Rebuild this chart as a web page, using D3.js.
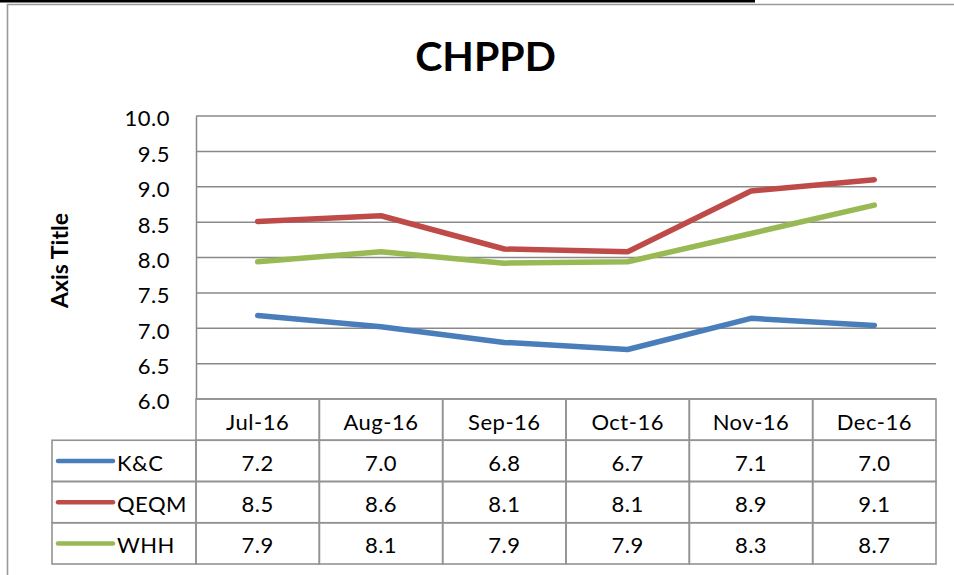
<!DOCTYPE html>
<html>
<head>
<meta charset="utf-8">
<script src="https://cdn.jsdelivr.net/npm/d3@7"></script>
<style>
  body { margin: 0; background: #fff; }
  text { font-family: Lato, "Open Sans", sans-serif; fill: #000; }
</style>
</head>
<body>
<div id="chart"></div>
<script>
// CHPPD line chart with data table underneath

var categories = ["Jul-16", "Aug-16", "Sep-16", "Oct-16", "Nov-16", "Dec-16"];
var seriesNames = ["K&C", "QEQM", "WHH"];
var kcValues = [7.18, 7.02, 6.80, 6.70, 7.14, 7.04];
var qeqmValues = [8.51, 8.59, 8.12, 8.08, 8.94, 9.10];
var whhValues = [7.94, 8.08, 7.92, 7.94, 8.34, 8.74];
var yTicks = [6.0, 6.5, 7.0, 7.5, 8.0, 8.5, 9.0, 9.5, 10.0];
var colors = ["#4A7EBB", "#BE4B48", "#98B954"];

var series = seriesNames.map(function(name, i) {
    return { name: name, values: [kcValues, qeqmValues, whhValues][i], color: colors[i] };
});

var svgWidth = 954;
var svgHeight = 575;
var fontSize = 22;

var svg = d3.select("#chart")
    .append("svg")
    .attr("width", svgWidth)
    .attr("height", svgHeight);

svg.append("rect")
    .attr("width", svgWidth)
    .attr("height", svgHeight)
    .attr("fill", "#fff");

// bit of the page above the chart
svg.append("rect")
    .attr("x", 0).attr("y", 0)
    .attr("width", 755).attr("height", 2.5)
    .attr("fill", "#000");

// chart frame (only top and left show in the crop)
svg.append("path")
    .attr("d", "M7.5,575 V4.5 H954")
    .attr("fill", "none")
    .attr("stroke", "#9a9a9a")
    .attr("stroke-width", 1.6);

var plotLeft = 196, plotRight = 936, plotTop = 116, plotBottom = 399;

var x = d3.scaleBand()
    .domain(categories)
    .range([plotLeft, plotRight]);

var y = d3.scaleLinear()
    .domain([6, 10])
    .range([plotBottom, plotTop]);

// title
svg.append("text")
    .attr("x", 485.5)
    .attr("y", 71)
    .attr("text-anchor", "middle")
    .attr("font-size", 41)
    .attr("font-weight", "bold")
    .text("CHPPD");

// axis title
svg.append("text")
    .attr("transform", "translate(68," + 260.5 + ") rotate(-90)")
    .attr("text-anchor", "middle")
    .attr("font-size", 23)
    .attr("font-weight", "bold")
    .text("Axis Title");

// gridlines
svg.append("g")
    .selectAll("line")
    .data(yTicks)
    .join("line")
    .attr("x1", plotLeft)
    .attr("x2", plotRight)
    .attr("y1", function(d) { return y(d); })
    .attr("y2", function(d) { return y(d); })
    .attr("stroke", "#898989")
    .attr("stroke-width", 1.5);

// y axis
var yAxis = d3.axisLeft(y)
    .tickValues(yTicks)
    .tickFormat(d3.format(".1f"))
    .tickSize(0)
    .tickPadding(26);

var yAxisG = svg.append("g")
    .attr("transform", "translate(" + plotLeft + ",0)")
    .call(yAxis);
yAxisG.select(".domain").attr("stroke", "#898989").attr("stroke-width", 1.5);
yAxisG.selectAll("text")
    .attr("font-size", fontSize)
    .attr("font-family", "Lato, sans-serif")
    .attr("letter-spacing", "0.5px")
    .attr("fill", "#000")
    .attr("dy", "0.45em");

// lines
var line = d3.line()
    .x(function(d, i) { return x(categories[i]) + x.bandwidth() / 2; })
    .y(function(d) { return y(d); });

svg.append("g")
    .selectAll("path")
    .data(series)
    .join("path")
    .attr("d", function(d) { return line(d.values); })
    .attr("fill", "none")
    .attr("stroke", function(d) { return d.color; })
    .attr("stroke-width", 5.5)
    .attr("stroke-linecap", "round")
    .attr("stroke-linejoin", "round");

// data table
var tableLeft = 52;
var rows = d3.scaleBand()
    .domain(["header"].concat(seriesNames))
    .range([plotBottom, 564]);
var rh = rows.bandwidth();
var fmt = d3.format(".1f");
var border = "#939393";

var table = svg.append("g");

// header cells
table.selectAll(".hcell")
    .data(categories)
    .join("rect")
    .attr("class", "hcell")
    .attr("x", function(d) { return x(d); })
    .attr("y", rows("header"))
    .attr("width", x.bandwidth())
    .attr("height", rh)
    .attr("fill", "none")
    .attr("stroke", border)
    .attr("stroke-width", 1.6);

table.selectAll(".htext")
    .data(categories)
    .join("text")
    .attr("class", "htext")
    .attr("x", function(d) { return x(d) + x.bandwidth() / 2; })
    .attr("y", rows("header") + rh / 2 + 10)
    .attr("text-anchor", "middle")
    .attr("font-size", fontSize)
    .attr("letter-spacing", "0.5px")
    .text(function(d) { return d; });

var rowG = table.selectAll(".row")
    .data(series)
    .join("g")
    .attr("class", "row")
    .attr("transform", function(d) { return "translate(0," + rows(d.name) + ")"; });

rowG.append("rect")
    .attr("x", tableLeft)
    .attr("width", plotLeft - tableLeft)
    .attr("height", rh)
    .attr("fill", "none")
    .attr("stroke", border)
    .attr("stroke-width", 1.6);

rowG.append("line")
    .attr("x1", 58).attr("x2", 113)
    .attr("y1", rh / 2).attr("y2", rh / 2)
    .attr("stroke", function(d) { return d.color; })
    .attr("stroke-width", 4.5)
    .attr("stroke-linecap", "round");

rowG.append("text")
    .attr("x", 117)
    .attr("y", rh / 2 + 10)
    .attr("font-size", fontSize)
    .attr("letter-spacing", "0.5px")
    .text(function(d) { return d.name; });

rowG.selectAll(".vcell")
    .data(function(d) { return d.values; })
    .join("rect")
    .attr("class", "vcell")
    .attr("x", function(d, i) { return x(categories[i]); })
    .attr("width", x.bandwidth())
    .attr("height", rh)
    .attr("fill", "none")
    .attr("stroke", border)
    .attr("stroke-width", 1.6);

rowG.selectAll(".vtext")
    .data(function(d) { return d.values; })
    .join("text")
    .attr("class", "vtext")
    .attr("x", function(d, i) { return x(categories[i]) + x.bandwidth() / 2; })
    .attr("y", rh / 2 + 10)
    .attr("text-anchor", "middle")
    .attr("font-size", fontSize)
    .attr("letter-spacing", "0.5px")
    .text(function(d) { return fmt(d); });
</script>
</body>
</html>
